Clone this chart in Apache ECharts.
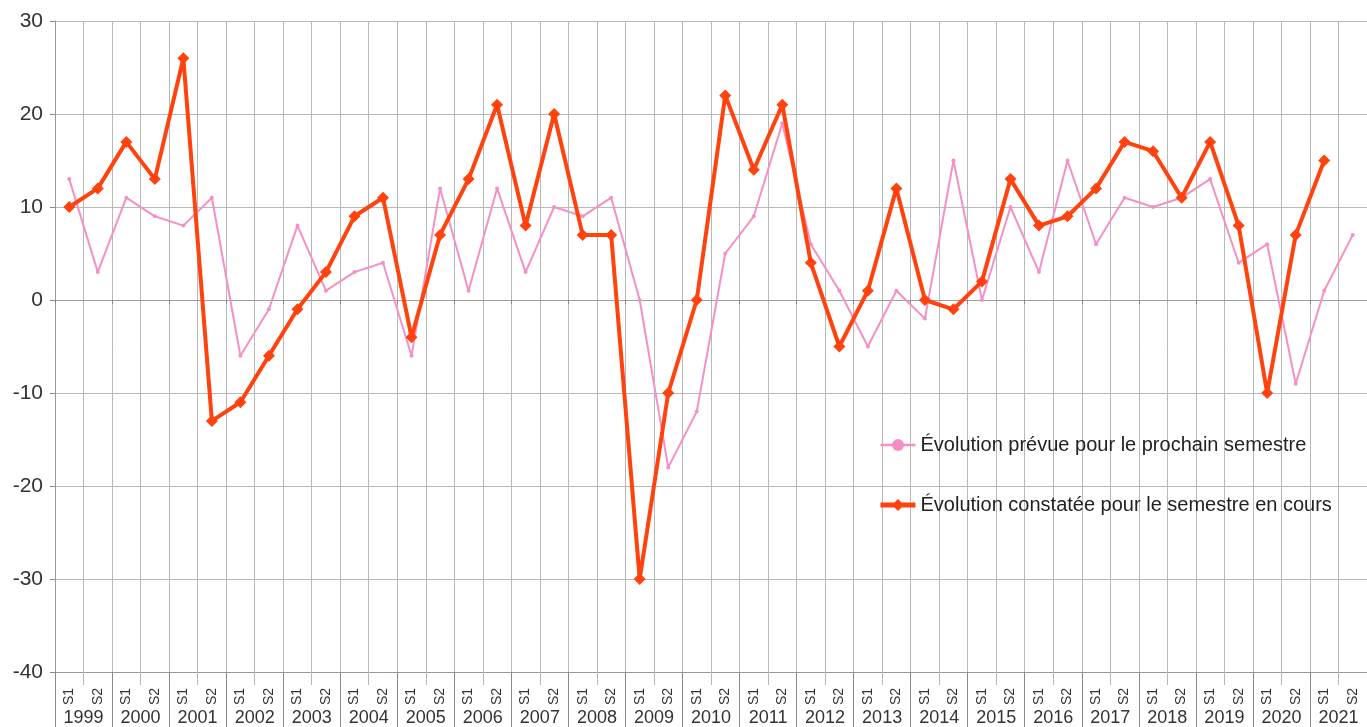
<!DOCTYPE html>
<html>
<head>
<meta charset="utf-8">
<script src="https://cdn.jsdelivr.net/npm/echarts@6/dist/echarts.min.js"></script>
<style>
html,body{margin:0;padding:0;background:#fff;}
#chart{width:1367px;height:727px;}
</style>
</head>
<body>
<div id="chart"></div>
<script>
const years = ['1999','2000','2001','2002','2003','2004','2005','2006','2007','2008','2009','2010','2011','2012','2013','2014','2015','2016','2017','2018','2019','2020','2021'];
const semesters = ['S1','S2'];
const categories = [];
years.forEach(y => semesters.forEach(s => categories.push(s + ' ' + y)));

const prevueName = 'Évolution prévue pour le prochain semestre';
const constateeName = 'Évolution constatée pour le semestre en cours';

const prevue = [13,3, 11,9, 8,11, -6,-1, 8,1, 3,4, -6,12, 1,12, 3,10, 9,11, 0,-18, -12,5, 9,19, 6,1, -5,1, -2,15, 0,10, 3,15, 6,11, 10,11, 13,4, 6,-9, 1,7];
const constatee = [10,12, 17,13, 26,-13, -11,-6, -1,3, 9,11, -4,7, 13,21, 8,20, 7,7, -30,-10, 0,22, 14,21, 4,-5, 1,12, 0,-1, 2,13, 8,9, 12,17, 16,11, 17,8, -10,7, 15,null];

const yTicks = {min: -40, max: 30, interval: 10};

const FONT = '"Liberation Sans", Arial, sans-serif';
const PINK = '#f590c6';
const RED = '#ff420e';
const GRID = '#b8b8b8';

const chart = echarts.init(document.getElementById('chart'), null, {renderer: 'canvas'});
chart.setOption({
  animation: false,
  backgroundColor: '#ffffff',
  textStyle: {fontFamily: FONT},
  grid: {left: 55, right: 0, top: 21, bottom: 50, containLabel: false},
  legend: {
    orient: 'vertical',
    left: 878,
    top: 435,
    padding: 0,
    itemWidth: 35,
    itemHeight: 15,
    itemGap: 40,
    textStyle: {fontFamily: FONT, fontSize: 20, color: '#222', lineHeight: 20},
    data: [
      {name: prevueName, lineStyle: {width: 2.5}},
      {name: constateeName, lineStyle: {width: 5}}
    ]
  },
  xAxis: [
    {
      type: 'category',
      data: categories,
      position: 'bottom',
      boundaryGap: true,
      axisLine: {show: true, onZero: false, lineStyle: {color: '#999'}},
      axisTick: {show: true, interval: 0, length: 13, lineStyle: {color: GRID}},
      axisLabel: {
        interval: 0, rotate: 90, margin: 16,
        fontFamily: FONT, fontSize: 14, color: '#333',
        formatter: v => v.split(' ')[0]
      },
      splitLine: {show: true, interval: 0, lineStyle: {color: GRID, width: 1}}
    },
    {
      type: 'category',
      data: years,
      position: 'bottom',
      boundaryGap: true,
      axisLine: {show: false, onZero: false},
      axisTick: {show: true, interval: 0, length: 60, lineStyle: {color: '#8a8a8a'}},
      axisLabel: {interval: 0, margin: 37, fontFamily: FONT, fontSize: 18, color: '#333'},
      splitLine: {show: false}
    },
    {
      type: 'category',
      data: years,
      position: 'bottom',
      boundaryGap: true,
      axisLine: {show: true, onZero: true, lineStyle: {color: '#a0a0a0'}},
      axisTick: {show: true, interval: 0, length: 4, lineStyle: {color: '#888'}},
      axisLabel: {show: false},
      splitLine: {show: false}
    }
  ],
  yAxis: {
    type: 'value',
    min: yTicks.min,
    max: yTicks.max,
    interval: yTicks.interval,
    axisLine: {show: true, lineStyle: {color: '#999'}},
    axisTick: {show: true, length: 5, lineStyle: {color: '#888'}},
    axisLabel: {margin: 12, fontFamily: FONT, fontSize: 21, color: '#333'},
    splitLine: {show: true, lineStyle: {color: GRID, width: 1}}
  },
  series: [
    {
      name: prevueName,
      type: 'line',
      xAxisIndex: 0,
      data: prevue,
      symbol: 'circle',
      symbolSize: 4,
      showAllSymbol: true,
      lineStyle: {color: PINK, width: 2},
      itemStyle: {color: PINK},
      z: 2
    },
    {
      name: constateeName,
      type: 'line',
      xAxisIndex: 0,
      data: constatee,
      symbol: 'diamond',
      symbolSize: 12,
      showAllSymbol: true,
      lineStyle: {color: RED, width: 4},
      itemStyle: {color: RED},
      z: 3
    }
  ]
});
</script>
</body>
</html>
